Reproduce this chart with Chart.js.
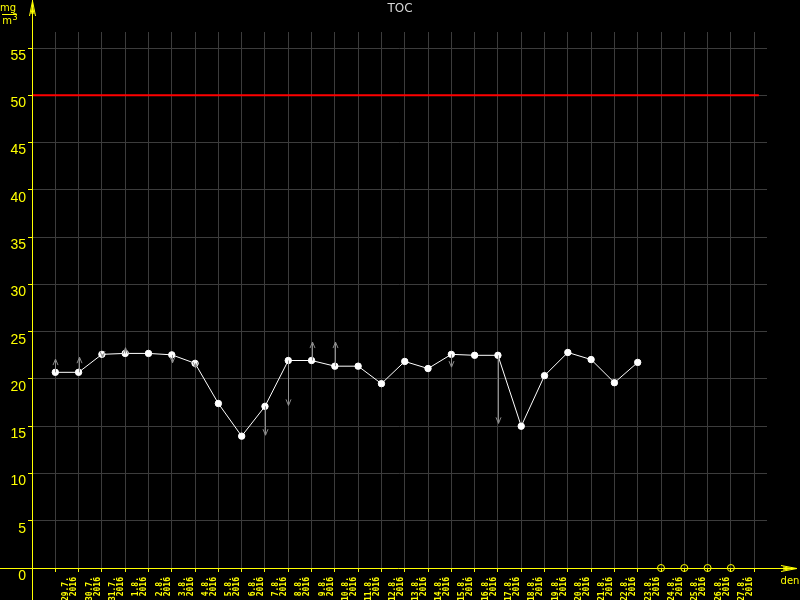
<!DOCTYPE html>
<html>
<head>
<meta charset="utf-8">
<title>TOC</title>
<script src="https://cdn.jsdelivr.net/npm/chart.js@4/dist/chart.umd.min.js"></script>
<style>
  html, body { margin: 0; padding: 0; background: #000; }
  canvas { display: block; }
</style>
</head>
<body>
<canvas id="chart" width="800" height="600"></canvas>
<script>
// ==================== DATA ====================

const dates = [
  "29.7.", "30.7.", "31.7.", "1.8.", "2.8.", "3.8.", "4.8.", "5.8.", "6.8.", "7.8.",
  "8.8.", "9.8.", "10.8.", "11.8.", "12.8.", "13.8.", "14.8.", "15.8.", "16.8.", "17.8.",
  "18.8.", "19.8.", "20.8.", "21.8.", "22.8.", "23.8.", "24.8.", "25.8.", "26.8.", "27.8.",
];
const year = "2016";

// measured TOC values (mg/m3), null = no sample
const tocValues = [
  20.7, 20.7, 22.6, 22.7, 22.7, 22.55, 21.65, 17.4, 13.95, 17.1,
  21.95, 21.95, 21.35, 21.35, 19.5, 21.85, 21.1, 22.6, 22.5, 22.5,
  15.0, 20.35, 22.8, 22.05, 19.6, 21.75, null, null, null, null,
];

// days without a sample (drawn on the zero line)
const missingDays = [26, 27, 28, 29];

// gray arrows: which day, and where the arrow points to
const arrowDays = [0, 1, 2, 3, 5, 6, 9, 10, 11, 12, 17, 19];
const arrowTo = [22.1, 22.3, 22.3, 23.3, 21.7, 21.15, 14.05, 17.2, 23.9, 23.9, 21.25, 15.3];

// limit line
const limitValue = 50;
const limitRange = [-1, 30.2];

const yTickStep = 5;
const yMax = 56.7;

// ==================== COLORS ====================

const YELLOW = "#ffff00";
const GRID = "#3c3c3c";
const ARROW = "#8c8c8c";

// ==================== DATASETS ====================

const tocPoints = [];
tocValues.forEach((v, i) => {
  if (v !== null) tocPoints.push({ x: i, y: v });
});

const missingPoints = missingDays.map((d) => ({ x: d, y: 0 }));
const limitPoints = limitRange.map((x) => ({ x: x, y: limitValue }));

// ==================== PLUGINS ====================

const background = {
  id: "background",
  beforeDraw(chart) {
    const ctx = chart.ctx;
    ctx.save();
    ctx.fillStyle = "#000";
    ctx.fillRect(0, 0, chart.width, chart.height);
    ctx.restore();
  },
};

// arrows drawn from the point value to the target value
const arrows = {
  id: "arrows",
  afterDatasetsDraw(chart) {
    const ctx = chart.ctx;
    const xs = chart.scales.x;
    const ys = chart.scales.y;
    ctx.save();
    ctx.strokeStyle = ARROW;
    ctx.lineWidth = 1;
    arrowDays.forEach((d, i) => {
      const x = Math.round(xs.getPixelForValue(d)) + 0.5;
      const y0 = ys.getPixelForValue(tocValues[d]);
      const y1 = ys.getPixelForValue(arrowTo[i]);
      const dir = y1 < y0 ? 1 : -1;
      ctx.beginPath();
      ctx.moveTo(x, y0);
      ctx.lineTo(x, y1);
      ctx.moveTo(x - 2.5, y1 + dir * 6);
      ctx.lineTo(x, y1);
      ctx.lineTo(x + 2.5, y1 + dir * 6);
      ctx.stroke();
    });
    ctx.restore();
  },
};

// axis lines with arrow heads, title and unit
const decorations = {
  id: "decorations",
  afterDraw(chart) {
    const ctx = chart.ctx;
    const area = chart.chartArea;
    const x0 = area.left + 0.5;
    const y0 = Math.round(chart.scales.y.getPixelForValue(0)) + 0.5;

    ctx.save();
    ctx.strokeStyle = YELLOW;
    ctx.lineWidth = 1;

    // y axis
    ctx.beginPath();
    ctx.moveTo(x0, 0);
    ctx.lineTo(x0, chart.height);
    ctx.moveTo(x0 - 3, 16);
    ctx.lineTo(x0, 1);
    ctx.lineTo(x0 + 3, 16);
    ctx.moveTo(x0 - 1.5, 14);
    ctx.lineTo(x0, 6);
    ctx.lineTo(x0 + 1.5, 14);
    ctx.stroke();

    // x axis
    ctx.beginPath();
    ctx.moveTo(0, y0);
    ctx.lineTo(797, y0);
    ctx.moveTo(781, y0 - 3);
    ctx.lineTo(797, y0);
    ctx.lineTo(781, y0 + 3);
    ctx.moveTo(783, y0 - 1.5);
    ctx.lineTo(792, y0);
    ctx.lineTo(783, y0 + 1.5);
    ctx.stroke();

    // axis names
    ctx.fillStyle = YELLOW;
    ctx.font = "10px 'DejaVu Sans'";
    ctx.textAlign = "center";
    ctx.textBaseline = "alphabetic";
    ctx.fillText("den", 790, 584);

    ctx.fillText("mg", 8, 11);
    ctx.beginPath();
    ctx.moveTo(2, 14.5);
    ctx.lineTo(17, 14.5);
    ctx.stroke();
    ctx.fillText("m", 7, 24);
    ctx.font = "8px 'DejaVu Sans'";
    ctx.fillText("3", 15, 20);

    // title
    ctx.fillStyle = "#d8d8d8";
    ctx.font = "12px 'DejaVu Sans'";
    ctx.textBaseline = "top";
    ctx.fillText("TOC", 400, 3);
    ctx.restore();
  },
};

// ==================== CHART ====================

const ctx = document.getElementById("chart").getContext("2d");

new Chart(ctx, {
  type: "line",
  data: {
    datasets: [
      {
        label: "TOC",
        data: tocPoints,
        borderColor: "#ffffff",
        borderWidth: 1,
        pointBackgroundColor: "#ffffff",
        pointBorderColor: "#ffffff",
        pointRadius: 3.2,
        pointBorderWidth: 1,
        tension: 0,
        order: 1,
      },
      {
        label: "no data",
        data: missingPoints,
        showLine: false,
        pointRadius: 3.5,
        pointBorderWidth: 1,
        pointBorderColor: YELLOW,
        pointBackgroundColor: "rgba(0,0,0,0)",
        clip: false,
        order: 0,
      },
      {
        label: "limit",
        data: limitPoints,
        borderColor: "#ff0000",
        borderWidth: 2,
        pointRadius: 0,
        order: 2,
      },
    ],
  },
  options: {
    responsive: false,
    animation: false,
    events: [],
    layout: {
      padding: { top: 32, right: 33, left: 0, bottom: 0 },
    },
    plugins: {
      legend: { display: false },
      tooltip: { enabled: false },
      title: { display: false },
    },
    scales: {
      x: {
        type: "linear",
        min: -1,
        max: 30.55,
        border: { display: false },
        grid: {
          color: GRID,
          lineWidth: 1,
          tickColor: YELLOW,
          tickLength: 4,
        },
        ticks: {
          stepSize: 1,
          includeBounds: false,
          autoSkip: false,
          maxTicksLimit: 100,
          minRotation: 90,
          maxRotation: 90,
          labelOffset: 11,
          padding: 5,
          color: YELLOW,
          font: { family: "'DejaVu Sans Mono'", size: 8, weight: "bold", lineHeight: 1 },
          callback: function (value) {
            if (Number.isInteger(value) && value >= 0 && value < dates.length) {
              return [dates[value], year];
            }
            return "";
          },
        },
        afterFit: function (scale) {
          scale.height = 32;
        },
      },
      y: {
        type: "linear",
        min: 0,
        max: yMax,
        border: { display: false },
        grid: {
          color: GRID,
          lineWidth: 1,
          tickColor: YELLOW,
          tickLength: 4,
        },
        ticks: {
          stepSize: yTickStep,
          includeBounds: false,
          labelOffset: 8,
          padding: 2,
          color: YELLOW,
          font: { family: "'Liberation Sans'", size: 14 },
        },
        afterFit: function (scale) {
          scale.width = 32;
        },
      },
    },
  },
  plugins: [background, arrows, decorations],
});
</script>
</body>
</html>
